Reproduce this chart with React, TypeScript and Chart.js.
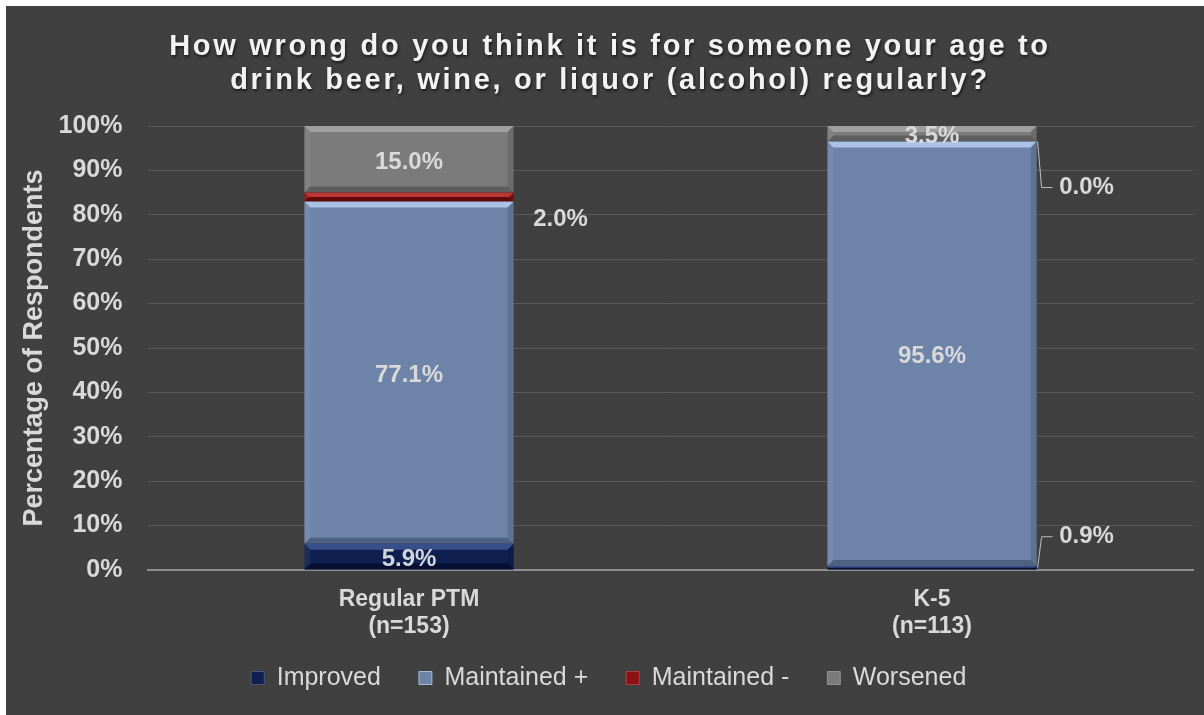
import React, { useEffect, useRef } from "react";
import { Chart, registerables } from "chart.js";

Chart.register(...registerables);

const categories: string[][] = [["Regular PTM", "(n=153)"], ["K-5", "(n=113)"]];
const seriesNames = ["Improved", "Maintained +", "Maintained -", "Worsened"];
const improved = [5.9, 0.9];
const maintainedPlus = [77.1, 95.6];
const maintainedMinus = [2.0, 0.0];
const worsened = [15.0, 3.5];
const yTicks = [0, 10, 20, 30, 40, 50, 60, 70, 80, 90, 100];
const titleLines = [
  "How wrong do you think it is for someone your age to",
  "drink beer, wine, or liquor (alcohol) regularly?",
];

const colors = ["#0f2050", "#6d83a7", "#8a1212", "#7b7b7b"];
const bevelLight = ["rgba(90,120,190,0.55)", "rgba(190,215,250,0.75)", "rgba(220,80,80,0.6)", "rgba(190,190,190,0.55)"];
const bevelDark = ["rgba(0,0,20,0.5)", "rgba(40,55,85,0.45)", "rgba(60,0,0,0.5)", "rgba(60,60,60,0.45)"];

// outside label placement (dataset-index), offsets from bar right edge / segment centre
const outsideLabels: Record<string, { dx: number; dy: number; leader: boolean }> = {
  "2-0": { dx: 47, dy: 22, leader: false },
  "2-1": { dx: 50, dy: 46, leader: true },
  "0-1": { dx: 50, dy: -31, leader: true },
};

const FONT = "'Liberation Sans', Arial, sans-serif";
const TEXT = "#d9d9d9";

const titlePlugin = {
  id: "customTitle",
  afterDraw(chart: any) {
    const ctx = chart.ctx;
    ctx.save();
    ctx.font = `bold 29px ${FONT}`;
    (ctx as any).letterSpacing = "2.7px";
    ctx.textAlign = "center";
    ctx.textBaseline = "middle";
    ctx.fillStyle = "#f2f2f2";
    ctx.shadowColor = "rgba(0,0,0,0.6)";
    ctx.shadowBlur = 3;
    ctx.shadowOffsetX = 1;
    ctx.shadowOffsetY = 2;
    const cx = 604;
    titleLines.forEach((l, i) => ctx.fillText(l, cx, 41 + i * 34));
    ctx.restore();

    // category labels under the x axis
    const xs = chart.scales.x;
    ctx.save();
    ctx.font = `bold 23px ${FONT}`;
    ctx.textAlign = "center";
    ctx.textBaseline = "middle";
    ctx.fillStyle = TEXT;
    categories.forEach((lines, i) => {
      const px = xs.getPixelForValue(i);
      lines.forEach((t, j) => ctx.fillText(t, px, xs.top + 30 + j * 27));
    });
    ctx.restore();
  },
};

const barDecor = {
  id: "barDecor",
  afterDatasetsDraw(chart: any) {
    const ctx = chart.ctx;
    ctx.save();
    chart.data.datasets.forEach((ds: any, di: number) => {
      const meta = chart.getDatasetMeta(di);
      meta.data.forEach((bar: any, i: number) => {
        const v = ds.data[i];
        if (!v) return;
        const { x, y, base, width } = bar.getProps(["x", "y", "base", "width"], true);
        const l = x - width / 2, r = x + width / 2;
        const top = Math.min(y, base), bot = Math.max(y, base);
        const h = bot - top;
        const b = Math.min(6, h / 2);
        ctx.fillStyle = bevelLight[di];
        ctx.beginPath();
        ctx.moveTo(l, top); ctx.lineTo(r, top); ctx.lineTo(r - b, top + b); ctx.lineTo(l + b, top + b); ctx.closePath();
        ctx.fill();
        ctx.fillStyle = bevelDark[di];
        ctx.beginPath();
        ctx.moveTo(l, bot); ctx.lineTo(r, bot); ctx.lineTo(r - b, bot - b); ctx.lineTo(l + b, bot - b); ctx.closePath();
        ctx.fill();
        ctx.fillStyle = "rgba(0,0,0,0.12)";
        ctx.beginPath();
        ctx.moveTo(r, top); ctx.lineTo(r, bot); ctx.lineTo(r - b, bot - b); ctx.lineTo(r - b, top + b); ctx.closePath();
        ctx.fill();
        ctx.fillStyle = "rgba(255,255,255,0.06)";
        ctx.beginPath();
        ctx.moveTo(l, top); ctx.lineTo(l, bot); ctx.lineTo(l + b, bot - b); ctx.lineTo(l + b, top + b); ctx.closePath();
        ctx.fill();
      });
    });
    ctx.font = `bold 24px ${FONT}`;
    ctx.textBaseline = "middle";
    chart.data.datasets.forEach((ds: any, di: number) => {
      const meta = chart.getDatasetMeta(di);
      meta.data.forEach((bar: any, i: number) => {
        const v = ds.data[i];
        const { x, y, base, width } = bar.getProps(["x", "y", "base", "width"], true);
        const cy = (y + base) / 2;
        const text = v.toFixed(1) + "%";
        const out = outsideLabels[`${di}-${i}`];
        ctx.textAlign = "center";
        if (out) {
          const r = x + width / 2;
          const ly = cy + out.dy;
          if (out.leader) {
            ctx.strokeStyle = "#bfbfbf";
            ctx.lineWidth = 1;
            ctx.beginPath();
            ctx.moveTo(r + 1, cy);
            ctx.lineTo(r + 5, ly);
            ctx.lineTo(r + 16, ly);
            ctx.stroke();
          }
          ctx.fillStyle = TEXT;
          ctx.fillText(text, r + out.dx, ly);
        } else {
          ctx.fillStyle = di === 0 ? "#d0d4dc" : TEXT;
          ctx.fillText(text, x, cy + 3);
        }
      });
    });
    ctx.restore();
  },
};

export default function App() {
  const ref = useRef<HTMLCanvasElement | null>(null);
  useEffect(() => {
    if (!ref.current) return;
    const data = [improved, maintainedPlus, maintainedMinus, worsened];
    const chart = new Chart(ref.current, {
      type: "bar",
      data: {
        labels: categories,
        datasets: seriesNames.map((n, i) => ({
          label: n,
          data: data[i],
          backgroundColor: colors[i],
          borderWidth: 0,
          barPercentage: 0.4,
          categoryPercentage: 1,
        })),
      },
      options: {
        animation: false,
        responsive: false,
        maintainAspectRatio: false,
        layout: { padding: { top: 120, left: 18, right: 10.5, bottom: 14.5 } },
        plugins: {
          title: { display: false },
          tooltip: { enabled: false },
          legend: {
            position: "bottom",
            labels: {
              color: TEXT,
              font: { family: FONT, size: 25 },
              boxWidth: 13,
              boxHeight: 13,
              padding: 38,
              generateLabels: (c: any) =>
                c.data.datasets.map((d: any, i: number) => ({
                  text: d.label,
                  fillStyle: colors[i],
                  strokeStyle: bevelLight[i],
                  lineWidth: 1,
                  fontColor: TEXT,
                  datasetIndex: i,
                })),
            },
          },
        },
        scales: {
          x: {
            stacked: true,
            grid: { display: false, drawTicks: false },
            border: { display: true, color: "#8f8f8f", width: 2 },
            ticks: { display: false },
            afterFit: (s: any) => { s.height = 57.5; },
          },
          y: {
            stacked: true,
            min: 0,
            max: 100,
            afterBuildTicks: (s: any) => { s.ticks = yTicks.map((v) => ({ value: v })); },
            grid: {
              drawTicks: false,
              color: (c: any) => (c.tick && c.tick.value === 0 ? "rgba(0,0,0,0)" : "#5a5a5a"),
              lineWidth: 1,
            },
            border: { display: false },
            ticks: {
              color: TEXT,
              font: { family: FONT, size: 25, weight: "bold" },
              padding: 25,
              callback: (v: any) => v + "%",
            },
            title: {
              display: true,
              text: "Percentage of Respondents",
              color: TEXT,
              font: { family: FONT, size: 27, weight: "bold", lineHeight: 0.8 },
              padding: { top: 0, bottom: 0 },
            },
            afterFit: (s: any) => { s.width = 123.5; },
          },
        },
      },
      plugins: [titlePlugin, barDecor],
    } as any);
    return () => chart.destroy();
  }, []);
  return (
    <div style={{ position: "fixed", left: 6, top: 6, width: 1198, height: 709, background: "#404040" }}>
      <canvas ref={ref} width={1198} height={709} style={{ display: "block", width: 1198, height: 709 }} />
    </div>
  );
}
